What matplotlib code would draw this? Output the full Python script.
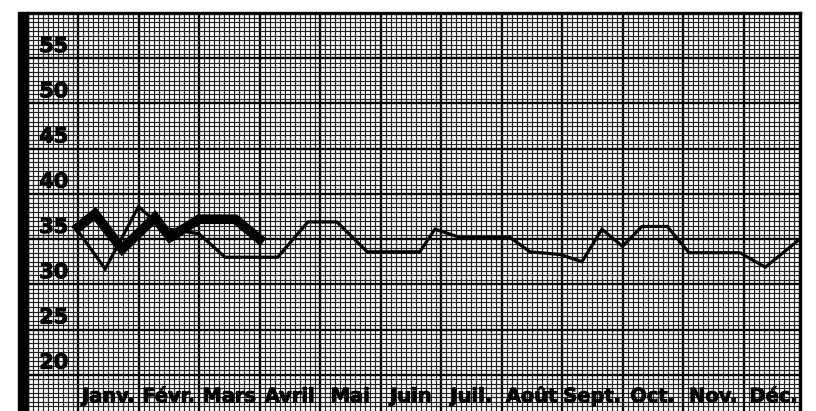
import matplotlib
matplotlib.use('Agg')
import matplotlib.pyplot as plt
import matplotlib.patheffects as pe
from matplotlib.ticker import MultipleLocator
from matplotlib.patches import Rectangle

months = ['Janv.', 'Févr.', 'Mars', 'Avril', 'Mai', 'Juin',
          'Juil.', 'Août', 'Sept.', 'Oct.', 'Nov.', 'Déc.']
y_labels = [20, 25, 30, 35, 40, 45, 50, 55]

# thin line, whole year: position in months from 1 Jan, value
year_pos = [0.0, 0.45, 1.0, 1.4, 2.0, 2.43, 3.3, 3.8, 4.28, 4.78, 5.65, 5.9,
            6.31, 7.14, 7.47, 7.97, 8.33, 8.66, 9.0, 9.32, 9.74, 10.1, 10.94,
            11.36, 11.93]
year_val = [35.9, 31.7, 38.6, 36.2, 35.6, 33.0, 33.0, 36.9, 36.9, 33.6, 33.6,
            36.1, 35.2, 35.2, 33.6, 33.3, 32.5, 36.1, 34.2, 36.4, 36.4, 33.5,
            33.5, 31.9, 35.0]

# thick line, Janv. to Mars
cur_pos = [0.0, 0.28, 0.73, 1.27, 1.52, 2.0, 2.6, 3.0]
cur_val = [36.3, 37.8, 33.9, 37.4, 35.2, 37.2, 37.2, 35.0]

W, H = 816, 411
fig = plt.figure(figsize=(W / 100, H / 100), dpi=100)
ax = fig.add_axes([28 / W, 0, (800 - 28) / W, (H - 13) / H])
ax.set_xlim(-50 / 60.5, 722 / 60.5)
ax.set_ylim(16, 60)

# graph paper
ax.xaxis.set_major_locator(MultipleLocator(1))
ax.xaxis.set_minor_locator(MultipleLocator(1 / 12))
ax.yaxis.set_major_locator(MultipleLocator(5))
ax.yaxis.set_minor_locator(MultipleLocator(0.5))
ax.grid(which='minor', color='#222222', lw=0.85)
ax.grid(which='major', color='k', lw=1.7)
ax.tick_params(which='both', length=0, labelbottom=False, labelleft=False)
ax.set_axisbelow(True)

for side in ['top', 'right']:
    ax.spines[side].set_linewidth(2.4)
ax.spines['bottom'].set_visible(False)
ax.spines['left'].set_linewidth(1)

# thick black bar on the left
fig.add_artist(Rectangle((18 / W, 0), 10 / W, (H - 12) / H,
                         transform=fig.transFigure, color='k'))

# lines
ax.plot(year_pos, year_val, color='k', lw=2.3, solid_joinstyle='miter')
ax.plot(cur_pos, cur_val, color='k', lw=7, solid_joinstyle='miter')

heavy = [pe.withStroke(linewidth=0.7, foreground='k')]
for v in y_labels:
    ax.text(-0.4, v + 0.25, str(v), ha='center', va='bottom',
            fontsize=15, fontweight='bold', path_effects=heavy)

for i, m in enumerate(months):
    ax.text(i + 0.5, 17.6, m, ha='center', va='center',
            fontsize=14, fontweight='bold', path_effects=heavy)

fig.savefig('out.png', dpi=100)
